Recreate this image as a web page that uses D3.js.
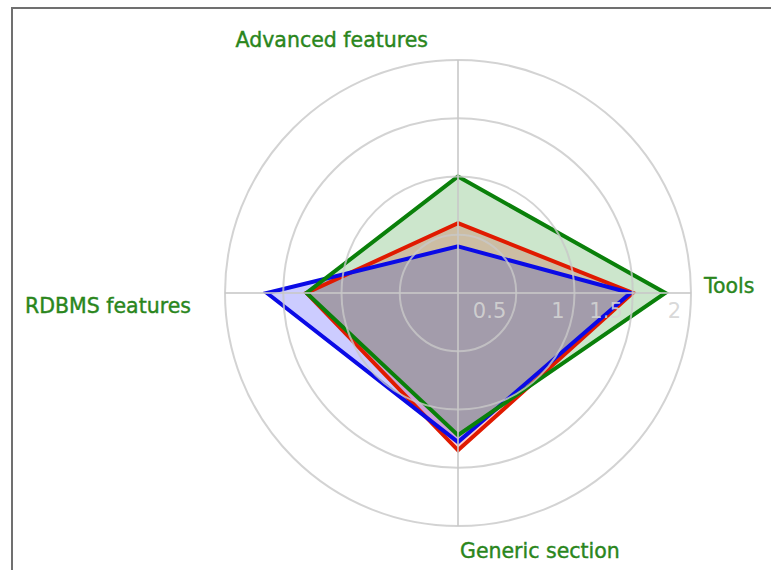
<!DOCTYPE html>
<html>
<head>
<meta charset="utf-8">
<script src="https://cdn.jsdelivr.net/npm/d3@7"></script>
<style>
  body { margin: 0; background: #fff; }
  svg { display: block; }
</style>
</head>
<body>
<svg id="radar" width="771" height="570"></svg>
<script>
// axes, clockwise from the top
var axes = ["Advanced features", "Tools", "Generic section", "RDBMS features"];
var ticks = [0.5, 1, 1.5, 2];
var tickLabels = ["0.5", "1", "1.5", "2"];

// series values, one per axis
var redValues = [0.6, 1.5, 1.35, 1.3];
var blueValues = [0.4, 1.48, 1.28, 1.64];
var greenValues = [1.0, 1.78, 1.22, 1.3];

var seriesColors = ["#e01a00", "#0a0ae6", "#0a800a"];
var seriesFills = ["#ff0000", "#0000ff", "#008000"];

const width = 771,
    height = 570,
    cx = 458,
    cy = 293,
    maxRadius = 233;

var svg = d3.select("#radar");

// frame
svg.append("path")
    .attr("d", "M12," + (height + 5) + "V8H" + (width + 5))
    .attr("fill", "none")
    .attr("stroke", "#707070")
    .attr("stroke-width", 2);

var r = d3.scaleLinear()
    .domain([0, 2])
    .range([0, maxRadius]);

var angle = d3.scaleLinear()
    .domain([0, axes.length])
    .range([0, 2 * Math.PI]);

function px(i, v) { return cx + r(v) * Math.sin(angle(i)); }
function py(i, v) { return cy - r(v) * Math.cos(angle(i)); }

var g = svg.append("g");

var allValues = [redValues, blueValues, greenValues];
var line = d3.line()
    .x((d, i) => px(i, d))
    .y((d, i) => py(i, d))
    .curve(d3.curveLinearClosed);

// fills first, then the outlines on top
g.selectAll("path.area")
    .data(allValues)
    .enter()
    .append("path")
    .attr("class", "area")
    .attr("d", d => line(d))
    .attr("fill", (d, i) => seriesFills[i])
    .attr("fill-opacity", 0.2);

g.selectAll("path.outline")
    .data(allValues)
    .enter()
    .append("path")
    .attr("class", "outline")
    .attr("d", d => line(d))
    .attr("fill", "none")
    .attr("stroke", (d, i) => seriesColors[i])
    .attr("stroke-width", 4)
    .attr("stroke-linejoin", "miter");

// grid goes over the series, slightly see-through
var grid = g.append("g")
    .attr("stroke", "#c8c8c8")
    .attr("stroke-opacity", 0.8)
    .attr("stroke-width", 2);

grid.selectAll("circle.ring")
    .data(ticks)
    .enter()
    .append("circle")
    .attr("class", "ring")
    .attr("cx", cx)
    .attr("cy", cy)
    .attr("r", d => r(d))
    .attr("fill", "none");

grid.selectAll("line.spoke")
    .data(axes)
    .enter()
    .append("line")
    .attr("class", "spoke")
    .attr("x1", cx)
    .attr("y1", cy)
    .attr("x2", (d, i) => px(i, 2))
    .attr("y2", (d, i) => py(i, 2));

// tick labels along the right spoke
g.selectAll("text.tick")
    .data(ticks)
    .enter()
    .append("text")
    .attr("class", "tick")
    .attr("x", d => cx + r(d) - 10)
    .attr("y", cy + 25)
    .attr("text-anchor", "end")
    .attr("font-family", "DejaVu Sans, Verdana, sans-serif")
    .attr("font-size", 21)
    .attr("fill", "#d4d4d4")
    .attr("fill-opacity", 0.9)
    .text((d, i) => tickLabels[i]);

// axis labels
var labelPos = [
    { dx: -30, dy: -13, anchor: "end" },
    { dx: 13, dy: 0, anchor: "start" },
    { dx: 2, dy: 32, anchor: "start" },
    { dx: -34, dy: 20, anchor: "end" }
];

g.selectAll("text.axis-label")
    .data(axes)
    .enter()
    .append("text")
    .attr("class", "axis-label")
    .attr("x", (d, i) => px(i, 2) + labelPos[i].dx)
    .attr("y", (d, i) => py(i, 2) + labelPos[i].dy)
    .attr("text-anchor", (d, i) => labelPos[i].anchor)
    .attr("font-family", "DejaVu Sans, Verdana, sans-serif")
    .attr("font-size", 20.5)
    .attr("fill", "#2a861c")
    .attr("stroke", "#2a861c")
    .attr("stroke-width", 0.4)
    .text(d => d);
</script>
</body>
</html>
